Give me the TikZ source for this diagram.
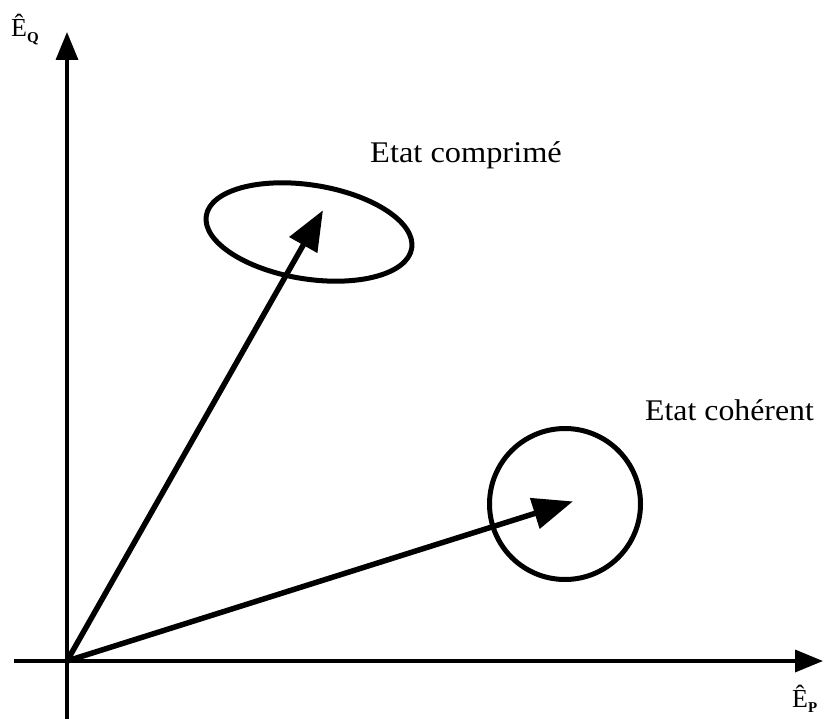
\documentclass[tikz,border=0pt]{standalone}
\usepackage{fontspec}
\setmainfont{Liberation Serif}
\usetikzlibrary{arrows.meta,shapes.geometric}
\begin{document}
\begin{tikzpicture}[x=1pt,y=-1pt,
  axis/.style={line width=3.5pt,-{Triangle[length=28pt,width=22pt]}},
  vec/.style={line width=5.5pt,-{Triangle[length=40pt,width=31pt]},shorten >=-2pt},
  blob/.style={draw,line width=5pt,inner sep=0pt},
  lab/.style={font=\fontsize{30}{36}\selectfont,inner sep=0pt,anchor=base west},
  axlab/.style={font=\fontsize{26}{30}\selectfont,inner sep=0pt,anchor=base west}]
\useasboundingbox (0,0) rectangle (824,719);
\coordinate (O) at (67,661);
\coordinate (Ybot) at (67,719);
\coordinate (Ytop) at (67,32);
\coordinate (Xl) at (14,661);
\coordinate (Xr) at (823,661);
\coordinate (S) at (322,212);
\coordinate (C) at (571,502);
\draw[axis] (Ybot) -- (Ytop);
\draw[axis] (Xl) -- (Xr);
\node[blob,ellipse,minimum width=208pt,minimum height=94pt,rotate=-9] (sq) at (309,232) {};
\node[blob,circle,minimum size=151pt] (coh) at (565,504) {};
\draw[vec] (O) -- (S);
\draw[vec] (O) -- (C);
\node[lab] (ls) at (370,163) {\scalebox{1.08}[1]{Etat comprimé}};
\node[lab] (lc) at (645,420) {\scalebox{1.06}[1]{Etat cohérent}};
\node[axlab] (eq) at (11,37) {Ê\raisebox{-6pt}{\fontsize{15}{17}\selectfont\bfseries Q}};
\node[axlab] (ep) at (792,707) {Ê\raisebox{-5pt}{\fontsize{15}{17}\selectfont\bfseries P}};
\end{tikzpicture}
\end{document}
